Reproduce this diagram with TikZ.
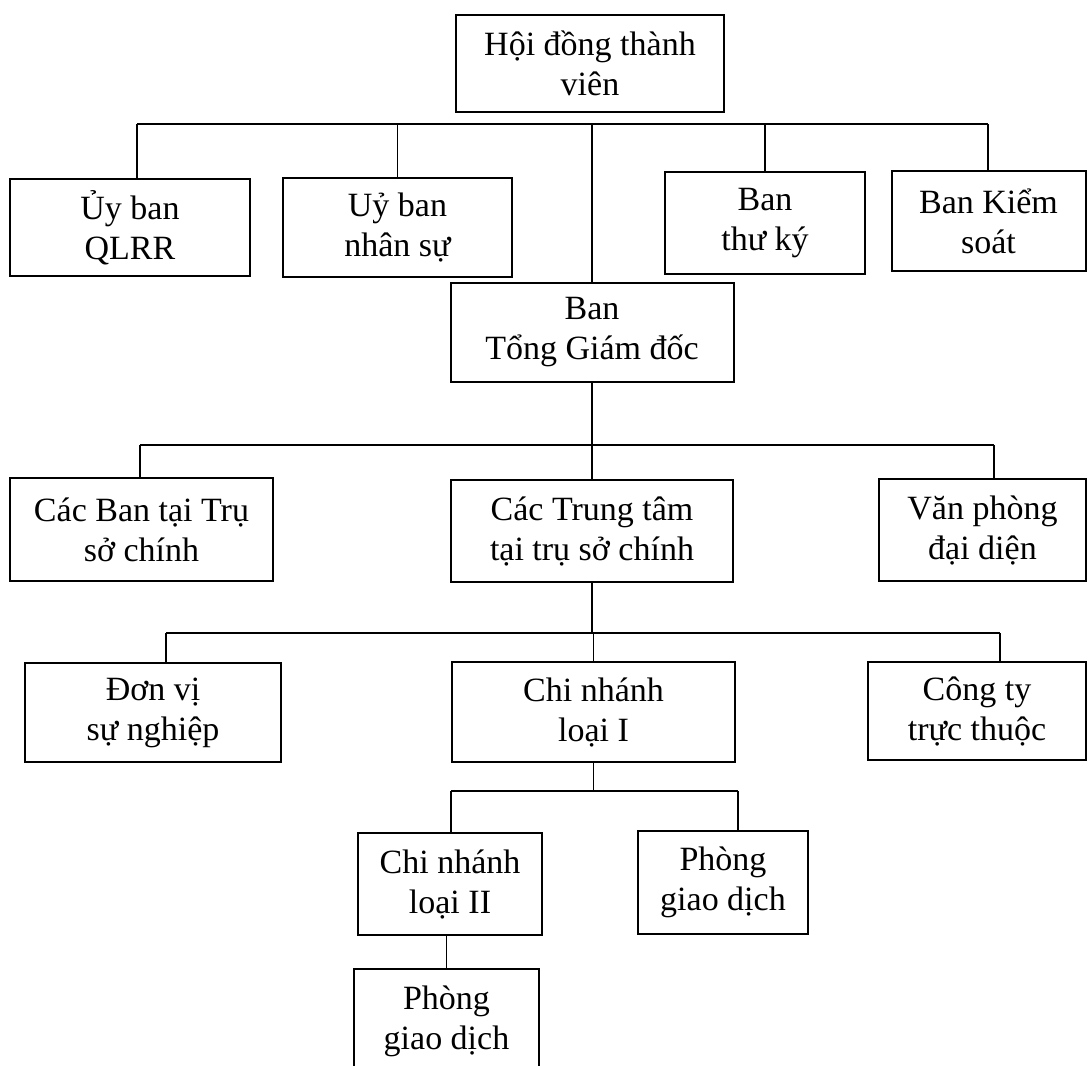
\documentclass[tikz,border=0pt]{standalone}
\usepackage{fontspec}
\setmainfont{Liberation Serif}
\usepackage{tikz}

\begin{document}
\begin{tikzpicture}[
  x=0.5pt, y=-0.5pt,
  font=\fontsize{17}{20}\selectfont,
  unit/.style={draw, line width=1pt, inner sep=0pt, align=center},
  link/.style={line width=0.9pt},
]
\useasboundingbox (0,0) rectangle (1089,1066);
% top
\node[unit, minimum width=134pt, minimum height=48.5pt] (hdtv) at (590, 63.5) {Hội đồng thành\\viên};
% committees
\node[unit, minimum width=120pt, minimum height=48.5pt] (qlrr) at (130, 227.5) {Ủy ban\\QLRR};
\node[unit, minimum width=114.5pt, minimum height=49.5pt] (nhansu) at (397.5, 227.5) {Uỷ ban\\nhân sự};
\node[unit, minimum width=100pt, minimum height=51pt] (thuky) at (765, 223) {Ban\\thư ký};
\node[unit, minimum width=97pt, minimum height=50pt] (kiemsoat) at (988.5, 221) {Ban Kiểm\\soát};
\node[unit, minimum width=141.5pt, minimum height=49.5pt] (tgd) at (592, 332.5) {Ban\\Tổng Giám đốc};
% head office
\node[unit, minimum width=131.5pt, minimum height=51.5pt] (cacban) at (141.5, 529.5) {Các Ban tại Trụ\\sở chính};
\node[unit, minimum width=141pt, minimum height=51pt] (trungtam) at (592, 531) {Các Trung tâm\\tại trụ sở chính};
\node[unit, minimum width=103.5pt, minimum height=51pt] (vanphong) at (982.5, 530) {Văn phòng\\đại diện};
% units
\node[unit, minimum width=128pt, minimum height=49.5pt] (donvi) at (153, 712.5) {Đơn vị\\sự nghiệp};
\node[unit, minimum width=141.5pt, minimum height=50pt] (cn1) at (593.5, 712) {Chi nhánh\\loại I};
\node[unit, minimum width=109pt, minimum height=49pt] (congty) at (977, 711) {Công ty\\trực thuộc};
% branches
\node[unit, minimum width=92pt, minimum height=51pt] (cn2) at (450, 884) {Chi nhánh\\loại II};
\node[unit, minimum width=85pt, minimum height=51.5pt] (pgd1) at (723, 882.5) {Phòng\\giao dịch};
\node[unit, minimum width=92.5pt, minimum height=52pt, anchor=north] (pgd2) at (446.5, 968) {Phòng\\giao dịch};
% bus under the board
\coordinate (b1l) at (137, 124);
\coordinate (b1r) at (988, 124);
\draw[link] (b1l) -- (b1r);
\draw[link] (b1l) -- (b1l |- qlrr.north);
\draw[link] (nhansu.north) -- (nhansu.north |- b1l);
\draw[link] (thuky.north) -- (thuky.north |- b1l);
\draw[link] (b1r) -- (b1r |- kiemsoat.north);
\draw[link] (tgd.north) -- (tgd.north |- b1l);
% bus under the executive board
\coordinate (b2l) at (140, 445);
\coordinate (b2r) at (994, 445);
\draw[link] (b2l) -- (b2r);
\draw[link] (tgd.south) -- (trungtam.north);
\draw[link] (b2l) -- (b2l |- cacban.north);
\draw[link] (b2r) -- (b2r |- vanphong.north);
% bus under the centres
\coordinate (b3l) at (166, 633);
\coordinate (b3r) at (1000, 633);
\draw[link] (b3l) -- (b3r);
\draw[link] (trungtam.south) -- (trungtam.south |- b3l);
\draw[link] (b3l) -- (b3l |- donvi.north);
\draw[link] (cn1.north) -- (cn1.north |- b3l);
\draw[link] (b3r) -- (b3r |- congty.north);
% bus under branch I
\coordinate (b4l) at (451, 791);
\coordinate (b4r) at (738, 791);
\draw[link] (b4l) -- (b4r);
\draw[link] (cn1.south) -- (cn1.south |- b4l);
\draw[link] (b4l) -- (b4l |- cn2.north);
\draw[link] (b4r) -- (b4r |- pgd1.north);
\draw[link] (pgd2.north) -- (pgd2.north |- cn2.south);
\end{tikzpicture}
\end{document}
